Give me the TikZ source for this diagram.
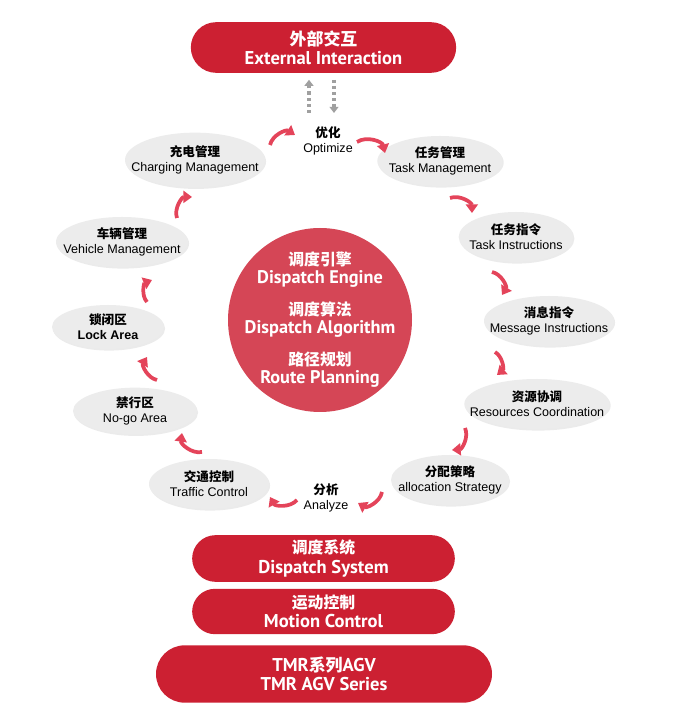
\documentclass[tikz,border=0pt]{standalone}
\usepackage{fontspec}
\setmainfont{Liberation Sans}
\newfontfamily\cjk{Noto Sans CJK SC}
\newfontfamily\hum{PT Sans}
\usetikzlibrary{positioning,arrows.meta,shapes.geometric,shapes.misc,shadows}
\definecolor{mainred}{RGB}{204,32,50}
\definecolor{hubred}{RGB}{213,70,86}
\definecolor{flowred}{RGB}{228,68,90}
\definecolor{ovalgray}{RGB}{236,236,236}
\definecolor{dotgray}{RGB}{160,160,160}
\newcommand\zhtxt[1]{{\cjk\bfseries #1}}

\begin{document}
\begin{tikzpicture}[
    x=0.75pt, y=0.75pt,
    pill/.style={
        rounded rectangle,
        fill=mainred,
        text=white,
        minimum width=197pt,
        minimum height=35pt,
        inner sep=0pt,
        align=center,
        font=\hum\bfseries\fontsize{13.9}{14.3}\selectfont
    },
    hub/.style={
        circle,
        fill=hubred,
        minimum size=138pt,
        inner sep=0pt
    },
    hubtext/.style={
        text=white,
        align=center,
        font=\hum\bfseries\fontsize{13.7}{13.5}\selectfont
    },
    oval/.style={
        ellipse,
        fill=ovalgray,
        minimum height=37.5pt,
        inner sep=0pt,
        drop shadow={shadow xshift=0.8pt, shadow yshift=-1.2pt, fill=black, opacity=0.08}
    },
    otext/.style={
        align=center,
        font=\fontsize{9.4}{11.3}\selectfont
    },
    flow/.style={
        -{Triangle[length=6.5pt,width=9pt]},
        flowred,
        line width=2.8pt
    },
    dots/.style={
        dotgray,
        line width=3pt,
        dash pattern=on 2.4pt off 2.2pt,
        -{Triangle[length=4.5pt,width=6.5pt]}
    }
]

\path[use as bounding box, fill=white] (0,0) rectangle (673,725);

% ============================================================
% TOP — EXTERNAL INTERACTION
% ============================================================

\node[pill, minimum width=199pt, minimum height=38pt] (top) at (323.5,677.5)
{{\cjk\fontsize{12.7}{14.3}\selectfont 外部交互}\\External Interaction};

\coordinate (up0) at (309,612);
\coordinate (dn0) at (334,612);
\draw[dots, shorten >=5pt] (up0) -- (up0 |- top.south);
\draw[dots, shorten <=5pt] (dn0 |- top.south) -- (dn0);

% ============================================================
% CENTRE — DISPATCH CORE
% ============================================================

\node[hub, label={[hubtext]center:{%
    {\cjk\fontsize{11.9}{13.5}\selectfont 调度引擎}\\Dispatch Engine\\[10.5pt]
    {\cjk\fontsize{11.9}{13.5}\selectfont 调度算法}\\Dispatch Algorithm\\[10.5pt]
    {\cjk\fontsize{11.9}{13.5}\selectfont 路径规划}\\Route Planning}}]
    (core) at (320,405) {};

% ============================================================
% RING — CLOCKWISE FROM OPTIMIZE
% ============================================================

\node[otext] (opt) at (328,584.5) {\zhtxt{优化}\\Optimize};

\node[oval, minimum width=94pt, label={[otext]center:{\zhtxt{任务管理}\\Task Management}}]
    (task) at (440,564) {};
\node[oval, minimum width=86pt, label={[otext]center:{\zhtxt{任务指令}\\Task Instructions}}]
    (taskins) at (516,488) {};
\node[oval, minimum width=97.5pt, label={[otext]center:{\zhtxt{消息指令}\\Message Instructions}}]
    (msg) at (549,404) {};
\node[oval, minimum width=109pt, label={[otext]center:{\zhtxt{资源协调}\\Resources Coordination}}]
    (res) at (537,321) {};
\node[oval, minimum width=88.5pt, label={[otext]center:{\zhtxt{分配策略}\\allocation Strategy}}]
    (alloc) at (450,245) {};

\node[otext] (analyze) at (326,227.5) {\zhtxt{分析}\\Analyze};

\node[oval, minimum width=90pt, label={[otext]center:{\zhtxt{交通控制}\\Traffic Control}}]
    (traffic) at (209,241) {};
\node[oval, minimum width=93pt, minimum height=35pt, label={[otext]center:{\zhtxt{禁行区}\\No-go Area}}]
    (nogo) at (135,314) {};
\node[oval, minimum width=84pt, minimum height=33pt, label={[otext]center:{\zhtxt{锁闭区}\\\textbf{Lock Area}}}]
    (lock) at (108,398) {};
\node[oval, minimum width=99pt, label={[otext]center:{\zhtxt{车辆管理}\\Vehicle Management}}]
    (vehicle) at (122,483) {};
\node[oval, minimum width=105pt, minimum height=41pt, label={[otext]center:{\zhtxt{充电管理}\\Charging Management}}]
    (charge) at (195,565) {};

% curved steps between the ring items
\foreach \i/\sx/\sy/\ex/\ey in {
    1/270/580/295/590, 2/357/583/385/572, 3/450/527/472/512,
    4/492/453/502/430, 5/495/373/497/350, 6/465/297/452/275,
    7/382/233/358/222, 8/297/225/270/228, 9/202/273/182/292,
    10/157/345/147/368, 11/147/423/152/445, 12/177/507/192/528}
{
    \coordinate (s\i) at (\sx,\sy);
    \coordinate (e\i) at (\ex,\ey);
    \draw[flow] (s\i) to[bend left=55] (e\i);
}

% ============================================================
% BOTTOM — SYSTEM STACK
% ============================================================

\node[pill, minimum height=35pt] (sys) at (323.5,166.5)
{{\cjk\fontsize{11.9}{14.3}\selectfont 调度系统}\\Dispatch System};

\node[pill, minimum height=34pt] (motion) at (323.5,113.5)
{{\cjk\fontsize{11.9}{14.3}\selectfont 运动控制}\\Motion Control};

\node[pill, minimum width=252pt, minimum height=43pt] (agv) at (324,51)
{TMR{\cjk\fontsize{12.7}{14.3}\selectfont 系列}AGV\\TMR AGV Series};

\end{tikzpicture}
\end{document}
